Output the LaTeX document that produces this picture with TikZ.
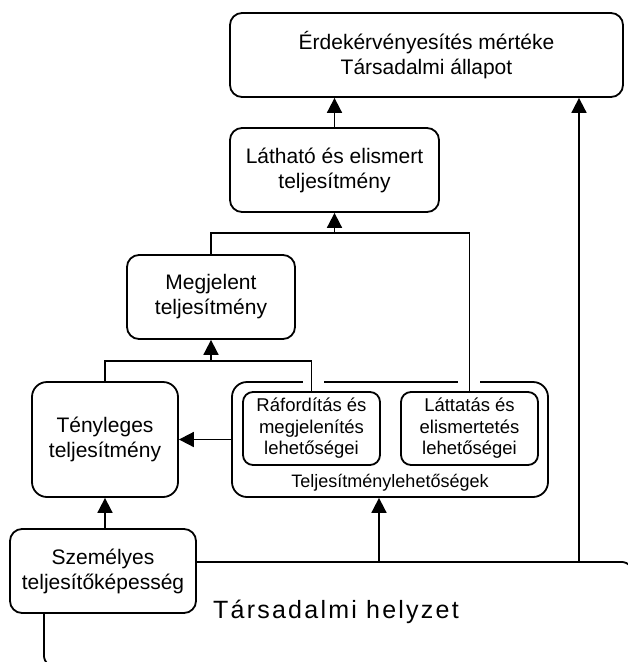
\documentclass[tikz,border=0pt]{standalone}
\usepackage{fontspec}
\setmainfont{Liberation Sans}
\newfontfamily\widefont[LetterSpace=9]{Liberation Sans}
\usetikzlibrary{arrows.meta,calc}
\newcommand\mybig{\fontsize{21}{25}\selectfont}
\newcommand\mysmall{\fontsize{18.5}{21.5}\selectfont}
\newcommand\mylabel{\fontsize{18}{21}\selectfont}
\newcommand\myhuge{\widefont\fontsize{25}{30}\selectfont}
\begin{document}
\begin{tikzpicture}[x=1pt,y=-1pt,
  box/.style={draw, rounded corners=12pt, line width=1.8pt, fill=white, inner sep=0pt, align=center, font=\mybig},
  sbox/.style={box, rounded corners=10pt, font=\mysmall},
  conn/.style={line width=1.8pt},
  arr/.style={conn, -{Triangle[length=15pt,width=15pt]}}]
\useasboundingbox (0,0) rectangle (628,662);
\clip (0,0) rectangle (628,662);
% bottom social situation box
\node[box, rounded corners=14pt, minimum width=591pt, minimum height=107pt, anchor=north west] (tars) at (43,561) {};
\node[font=\myhuge, anchor=base] (tarslabel) at (336,618) {Társadalmi helyzet};
\node[box, minimum width=186pt, minimum height=84pt] (szem) at (103,571) {Személyes\\teljesítőképesség};
% group
\node[box, rounded corners=15pt, minimum width=316pt, minimum height=115pt] (group) at (390,439.5) {};
\draw[white, line width=3.5pt] ($(311.5,382)+(-9,0)$) -- ($(311.5,382)+(12,0)$);
\draw[white, line width=3.5pt] ($(469.5,382)+(-12,0)$) -- ($(469.5,382)+(10,0)$);
\node[sbox, minimum width=137pt, minimum height=73pt] (rafo) at (311.5,428.5) {Ráfordítás és\\megjelenítés\\lehetőségei};
\node[sbox, minimum width=137pt, minimum height=73pt] (latt) at (469.5,428.5) {Láttatás és\\elismertetés\\lehetőségei};
\node[font=\mylabel, anchor=base] (glabel) at (390,487) {Teljesítménylehetőségek};
% other boxes
\node[box, rounded corners=15pt, minimum width=146pt, minimum height=115pt] (teny) at (105,439.5) {Tényleges\\teljesítmény};
\node[box, minimum width=168pt, minimum height=84pt] (megj) at (211,297) {Megjelent\\teljesítmény};
\node[box, minimum width=209pt, minimum height=84pt] (lath) at (334.5,170) {Látható és elismert\\teljesítmény};
\node[box, minimum width=393pt, minimum height=84pt] (top) at (426.5,55) {Érdekérvényesítés mértéke\\Társadalmi állapot};
% junction coordinates
\coordinate (jt) at (334.5,233);
\coordinate (jm) at (211,361);
\coordinate (tg) at (379,561);
\coordinate (tt) at (579,561);
% connectors
\draw[arr] (lath.north) -- (lath.north |- top.south);
\draw[conn] (megj.north) |- (jt) -| (latt.north);
\draw[arr] (jt) -- (lath.south);
\draw[conn] (teny.north) |- (jm) -| (rafo.north);
\draw[arr] (jm) -- (megj.south);
\draw[arr] (group.west) -- (teny.east);
\draw[arr] (teny.south |- szem.north) -- (teny.south);
\draw[arr] (tg) -- (tg |- group.south);
\draw[arr] (tt) -- (tt |- top.south);
\end{tikzpicture}
\end{document}
